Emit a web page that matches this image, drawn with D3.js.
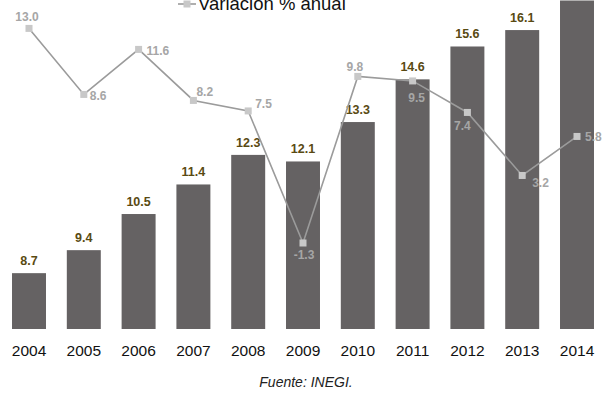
<!DOCTYPE html>
<html>
<head>
<meta charset="utf-8">
<script src="https://cdn.jsdelivr.net/npm/d3@7/dist/d3.min.js"></script>
<style>
  html, body { margin: 0; padding: 0; background: #fff; }
  svg { display: block; font-family: "Liberation Sans", Arial, sans-serif; }
</style>
</head>
<body>
<svg id="chart" width="602" height="394"></svg>
<script>
// Annual values (bars) and annual % change (line)
const years = ["2004","2005","2006","2007","2008","2009","2010","2011","2012","2013","2014"];
const values = [8.7, 9.4, 10.5, 11.4, 12.3, 12.1, 13.3, 14.6, 15.6, 16.1, 17.0];
const changes = [13.0, 8.6, 11.6, 8.2, 7.5, -1.3, 9.8, 9.5, 7.4, 3.2, 5.8];
const legendLabel = "Variación % anual";
const sourceNote = "Fuente: INEGI.";

// Where each % label sits relative to its marker
const changeLabelPlacement = [
  { dx: -2, dy: -7, anchor: "middle" },
  { dx: 6, dy: 5.5, anchor: "start" },
  { dx: 8, dy: 5.5, anchor: "start" },
  { dx: 3, dy: -4, anchor: "start" },
  { dx: 7, dy: -3, anchor: "start" },
  { dx: 1, dy: 16, anchor: "middle" },
  { dx: -3, dy: -5, anchor: "middle" },
  { dx: 4, dy: 21, anchor: "middle" },
  { dx: -5, dy: 18, anchor: "middle" },
  { dx: 10, dy: 12, anchor: "start" },
  { dx: 8, dy: 5, anchor: "start" }
];

const svg = d3.select("#chart");

const x = d3.scaleBand()
  .domain(years)
  .range([1.6, 604.4])
  .paddingInner(0.38)
  .paddingOuter(0.19);

const yBar = d3.scaleLinear().domain([7, 17]).range([329, 0.5]);
const yLine = d3.scaleLinear().domain([-2, 14]).range([253.5, 13.4]);

const cx = d => x(d) + x.bandwidth() / 2;

// Bars
svg.append("g").selectAll("rect")
  .data(years)
  .join("rect")
  .attr("x", d => x(d))
  .attr("width", x.bandwidth())
  .attr("y", (d, i) => yBar(values[i]))
  .attr("height", (d, i) => yBar.range()[0] - yBar(values[i]))
  .attr("fill", "#656263");

// Bar value labels, only where there is room above the bar
const labelled = years.map((d, i) => ({ year: d, value: values[i] }))
  .filter(d => yBar(d.value) - 8 > 10);

svg.append("g").selectAll("text")
  .data(labelled)
  .join("text")
  .attr("x", d => cx(d.year))
  .attr("y", d => yBar(d.value) - 8)
  .attr("text-anchor", "middle")
  .attr("font-size", 12.5)
  .attr("font-weight", "bold")
  .attr("fill", "#594a12")
  .text(d => d.value.toFixed(1));

// X axis (labels only)
const xAxis = svg.append("g")
  .attr("transform", "translate(0,341)")
  .call(d3.axisBottom(x).tickSize(0).tickPadding(4));
xAxis.select(".domain").remove();
xAxis.selectAll("text")
  .attr("font-family", "Liberation Sans, Arial, sans-serif")
  .attr("font-size", 15.5)
  .attr("fill", "#111");

// Line of annual % change
const line = d3.line()
  .x((d, i) => cx(years[i]))
  .y(d => yLine(d));

svg.append("path")
  .datum(changes)
  .attr("d", line)
  .attr("fill", "none")
  .attr("stroke", "#9b9b9b")
  .attr("stroke-width", 1.6);

svg.append("g").selectAll("rect")
  .data(changes)
  .join("rect")
  .attr("x", (d, i) => cx(years[i]) - 3.5)
  .attr("y", d => yLine(d) - 3.5)
  .attr("width", 7)
  .attr("height", 7)
  .attr("fill", "#c8c8c8");

svg.append("g").selectAll("text")
  .data(changes)
  .join("text")
  .attr("x", (d, i) => cx(years[i]) + changeLabelPlacement[i].dx)
  .attr("y", (d, i) => yLine(d) + changeLabelPlacement[i].dy)
  .attr("text-anchor", (d, i) => changeLabelPlacement[i].anchor)
  .attr("font-size", 12)
  .attr("font-weight", "bold")
  .attr("fill", "#a6a6a6")
  .text(d => d.toFixed(1));

// Legend
const legend = svg.append("g").attr("transform", "translate(0,4)");
legend.append("line")
  .attr("x1", 178).attr("x2", 196)
  .attr("y1", 0).attr("y2", 0)
  .attr("stroke", "#9b9b9b").attr("stroke-width", 1.6);
legend.append("rect")
  .attr("x", 183.5).attr("y", -3.5)
  .attr("width", 7).attr("height", 7)
  .attr("fill", "#c8c8c8");
legend.append("text")
  .attr("x", 198).attr("y", 6)
  .attr("font-size", 18.5)
  .attr("fill", "#111")
  .text(legendLabel);

// Source note
svg.append("text")
  .attr("x", 306).attr("y", 387)
  .attr("text-anchor", "middle")
  .attr("font-size", 14)
  .attr("font-style", "italic")
  .attr("fill", "#222")
  .text(sourceNote);
</script>
</body>
</html>
